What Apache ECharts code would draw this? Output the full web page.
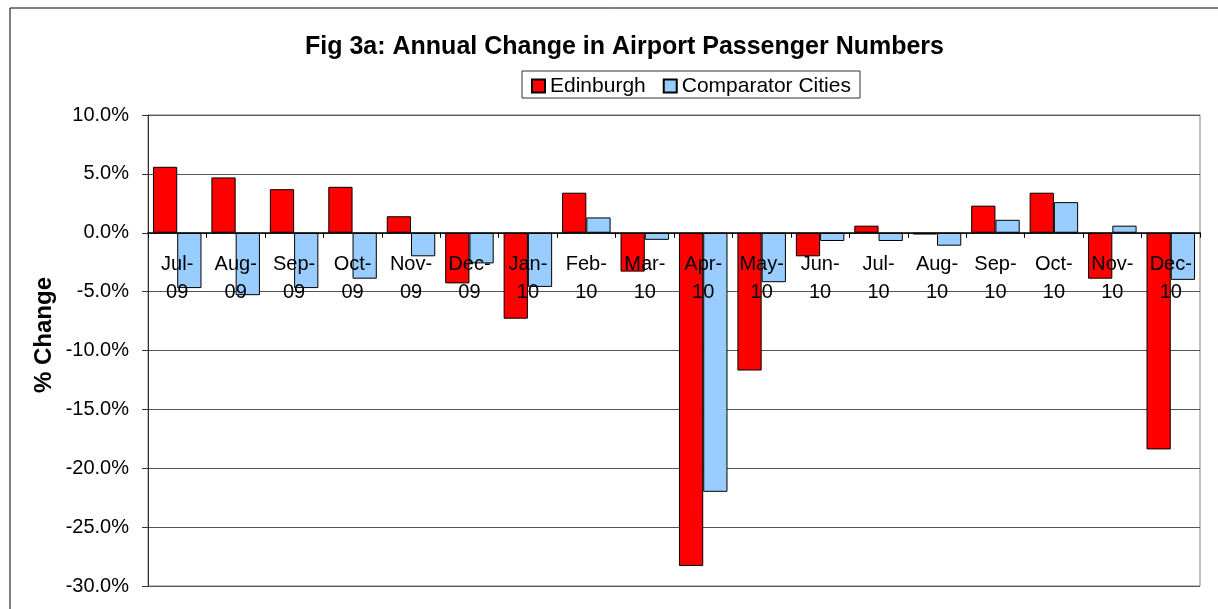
<html>
<head>
    <title>Fig 3a</title>
    <script src="https://cdn.jsdelivr.net/npm/echarts@6/dist/echarts.min.js"></script>
</head>
<body style="margin:0">
    <div id="chart" style="width:1218px;height:609px;"></div>
    <script>
        var months = ["Jul-09", "Aug-09", "Sep-09", "Oct-09", "Nov-09", "Dec-09", "Jan-10", "Feb-10", "Mar-10",
            "Apr-10", "May-10", "Jun-10", "Jul-10", "Aug-10", "Sep-10", "Oct-10", "Nov-10", "Dec-10"];
        var edinburgh = [5.6, 4.7, 3.7, 3.9, 1.4, -4.3, -7.3, 3.4, -3.3, -28.3, -11.7, -2.0, 0.6, -0.15, 2.3, 3.4, -3.9, -18.4];
        var comparator = [-4.7, -5.3, -4.7, -3.9, -2.0, -2.6, -4.6, 1.3, -0.6, -22.0, -4.2, -0.7, -0.7, -1.1, 1.1, 2.6, 0.6, -4.0];
        var yMin = -30, yMax = 10, yStep = 5;

        var gridTop = 115, gridBottom = 23, chartHeight = 609;
        // the category axis sits on the 0% line, labels included
        var plotH = chartHeight - gridTop - gridBottom;
        var zeroOffset = plotH * (0 - yMin) / (yMax - yMin);

        var chart = echarts.init(document.getElementById('chart'));
        var font = 'Liberation Sans, Arial, sans-serif';
        var option = {
            backgroundColor: '#fff',
            animation: false,
            textStyle: { fontFamily: font },
            title: {
                text: 'Fig 3a: Annual Change in Airport Passenger Numbers',
                left: 305,
                top: 26,
                padding: 0,
                textStyle: { fontSize: 25, fontWeight: 'bold', color: '#000', fontFamily: font }
            },
            legend: {
                left: 531,
                top: 68,
                padding: 0,
                itemWidth: 13,
                itemHeight: 13,
                itemGap: 17,
                icon: 'rect',
                textStyle: { fontSize: 21, lineHeight: 21, color: '#000', fontFamily: font },
                data: ['Edinburgh', 'Comparator Cities']
            },
            graphic: [{
                type: 'rect',
                shape: { x: 10, y: 8, width: 1240, height: 640 },
                style: { fill: 'none', stroke: '#000', lineWidth: 1 }
            }, {
                // legend frame
                type: 'rect',
                shape: { x: 522, y: 71, width: 338, height: 27 },
                style: { fill: 'none', stroke: '#333', lineWidth: 1 }
            }],
            grid: {
                left: 148, right: 18, top: gridTop, bottom: gridBottom,
                show: true, borderColor: '#808080', borderWidth: 1
            },
            xAxis: {
                type: 'category',
                data: months,
                z: 5,
                offset: -zeroOffset,
                axisLine: { onZero: false, lineStyle: { color: '#000', width: 1.5 } },
                axisTick: { show: true, length: 5, interval: 0, lineStyle: { color: '#000' } },
                axisLabel: {
                    interval: 0,
                    margin: 18,
                    fontSize: 20,
                    lineHeight: 28,
                    color: '#000',
                    fontFamily: font,
                    formatter: function (v) { return v.replace('-', '-\n'); }
                }
            },
            yAxis: {
                type: 'value',
                min: yMin,
                max: yMax,
                interval: yStep,
                name: '% Change',
                nameLocation: 'middle',
                nameRotate: 90,
                nameGap: 83,
                nameMoveOverlap: false,
                nameTextStyle: { fontSize: 24, fontWeight: 'bold', color: '#000', fontFamily: font, padding: [0, 0, 0, 31] },
                axisLine: { show: true, lineStyle: { color: '#333' } },
                axisTick: { show: true, length: 6, lineStyle: { color: '#333' } },
                splitLine: { lineStyle: { color: '#555' } },
                axisLabel: {
                    fontSize: 20,
                    color: '#000',
                    margin: 19,
                    fontFamily: font,
                    formatter: function (v) { return v.toFixed(1) + '%'; }
                }
            },
            series: [{
                name: 'Edinburgh',
                type: 'bar',
                data: edinburgh,
                barGap: '0%',
                barCategoryGap: '17%',
                itemStyle: { color: '#FF0000', borderColor: '#000', borderWidth: 1 }
            }, {
                name: 'Comparator Cities',
                type: 'bar',
                data: comparator,
                itemStyle: { color: '#99CCFF', borderColor: '#000', borderWidth: 1 }
            }]
        };
        chart.setOption(option);
    </script>
</body>
</html>
